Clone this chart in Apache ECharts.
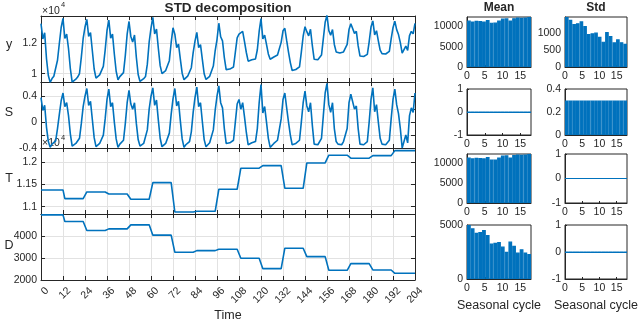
<!DOCTYPE html>
<html>
<head>
<meta charset="utf-8">
<script src="https://cdn.jsdelivr.net/npm/echarts@6/dist/echarts.min.js"></script>
<style>
  html, body { margin: 0; padding: 0; background: #fff; }
  #chart { width: 640px; height: 325px; }
</style>
</head>
<body>
<div id="chart"></div>
<script>
// per-cycle trend (T) and dispersion (D), 17 seasonal cycles of 12 months
const trend = [11376, 11180, 11331, 11286, 11167, 11540, 10880, 10896, 11392,
  11865, 11924, 11414, 11984, 12158, 12090, 12149, 12261]
const dispersion = [5000, 4693, 4277, 4355, 4540, 4065, 3279, 3353, 3418,
  3000, 2522, 3464, 3076, 2448, 2753, 2462, 2309]

// seasonal component S, t = 0..204 (first value is t = 0, then one row per cycle)
const seasonal = [0.38,
  0.18, 0.26, -0.08, -0.30, -0.39, -0.34, -0.31, -0.29, -0.10, 0.12, 0.33, 0.45,
  0.24, 0.30, 0.10, -0.18, -0.37, -0.37, -0.33, -0.30, -0.25, -0.02, 0.24, 0.40,
  0.52, 0.26, 0.32, 0.04, -0.24, -0.38, -0.35, -0.33, -0.31, -0.20, 0.05, 0.35,
  0.51, 0.24, 0.30, 0.00, -0.26, -0.39, -0.34, -0.32, -0.28, -0.02, 0.30, 0.49,
  0.28, 0.20, 0.30, -0.02, -0.27, -0.37, -0.36, -0.33, -0.30, -0.12, 0.20, 0.40,
  0.53, 0.26, 0.34, 0.03, -0.25, -0.38, -0.35, -0.33, -0.30, -0.17, 0.12, 0.36,
  0.52, 0.25, 0.32, 0.02, -0.26, -0.39, -0.35, -0.32, -0.30, -0.15, 0.15, 0.38,
  0.54, 0.24, 0.30, 0.01, -0.27, -0.38, -0.36, -0.32, -0.29, -0.12, 0.18, 0.40,
  0.56, 0.30, 0.22, -0.10, -0.33, -0.35, -0.32, -0.30, -0.28, 0.00, 0.28, 0.35,
  0.20, 0.30, 0.08, -0.16, -0.35, -0.34, -0.32, -0.33, -0.30, -0.10, 0.30, 0.58,
  0.14, 0.24, 0.00, -0.25, -0.39, -0.36, -0.33, -0.32, -0.28, -0.25, 0.05, 0.35,
  0.45, 0.22, 0.00, -0.20, -0.35, -0.37, -0.33, -0.32, -0.28, 0.00, 0.30, 0.48,
  0.25, 0.16, 0.30, -0.05, -0.34, -0.33, -0.35, -0.32, -0.25, 0.10, 0.45, 0.60,
  0.27, 0.15, 0.30, -0.10, -0.30, -0.34, -0.33, -0.35, -0.30, -0.32, -0.10, 0.30,
  0.43, 0.42, 0.20, 0.25, -0.10, -0.34, -0.33, -0.35, -0.32, -0.30, 0.00, 0.35,
  0.53, 0.16, 0.27, 0.00, -0.25, -0.34, -0.33, -0.35, -0.32, -0.28, 0.05, 0.35,
  0.51, 0.27, 0.13, -0.10, -0.40, -0.30, -0.20, -0.32, 0.10, 0.22, 0.15, 0.45]

// right-hand bar panels
const cycles = [1, 2, 3, 4, 5, 6, 7, 8, 9, 10, 11, 12, 13, 14, 15, 16, 17]
const stdY = [1490, 1410, 1285, 1305, 1360, 1220, 985, 1005, 1025, 900, 755, 1040, 925, 735, 825, 740, 695]
const stdS = [0.3, 0.3, 0.3, 0.3, 0.3, 0.3, 0.3, 0.3, 0.3, 0.3, 0.3, 0.3, 0.3, 0.3, 0.3, 0.3, 0.3]
const zeroRow = [0, 0, 0, 0, 0, 0, 0, 0, 0, 0, 0, 0, 0, 0, 0, 0, 0]

const AXC = '#262626'
const GRIDC = '#e2e2e2'
const BLUE = '#0072BD'
const FONT = '"Liberation Sans", Arial, Helvetica, sans-serif'

// y = T + D * S (the decomposition)
const cycleOf = t => (t === 0 ? 0 : Math.ceil(t / 12) - 1)
const ySeries = [], sSeries = [], tSeries = [], dSeries = []
seasonal.forEach((s, t) => {
  const c = cycleOf(t)
  ySeries.push([t, trend[c] + dispersion[c] * s])
  sSeries.push([t, s])
  tSeries.push([t, trend[c]])
  dSeries.push([t, dispersion[c]])
})

const grids = [], xAxes = [], yAxes = [], series = []
const lbl = { color: AXC, fontSize: 10.5, fontFamily: FONT }
const lineSt = { show: true, onZero: false, lineStyle: { color: AXC, width: 1 } }
const plain = v => String(v)

function leftPanel (top, data, y, showX) {
  const g = grids.length
  grids.push({ left: 41, top: top, width: 374, height: 66 })
  const tick = { show: true, inside: true, length: 4, lineStyle: { color: AXC } }
  xAxes.push({
    gridIndex: g, type: 'value', position: 'bottom', min: 0, max: 204, interval: 12,
    axisLine: lineSt, axisTick: tick,
    splitLine: { show: true, lineStyle: { color: GRIDC } },
    axisLabel: showX
      ? Object.assign({ rotate: 45, margin: 3, verticalAlign: 'top', padding: [3, 0, 0, 0] }, lbl)
      : { show: false }
  })
  const xi = xAxes.length - 1
  xAxes.push({
    gridIndex: g, type: 'value', position: 'top', min: 0, max: 204, interval: 12,
    axisLine: lineSt, axisTick: tick, splitLine: { show: false }, axisLabel: { show: false }
  })
  yAxes.push({
    gridIndex: g, type: 'value', position: 'left', min: y.min, max: y.max,
    axisLine: lineSt,
    axisTick: Object.assign({ customValues: y.ticks }, tick),
    splitLine: { show: true, lineStyle: { color: GRIDC } },
    axisLabel: Object.assign({ customValues: y.labels, margin: 4, formatter: y.fmt }, lbl)
  })
  const yi = yAxes.length - 1
  yAxes.push({
    gridIndex: g, type: 'value', position: 'right', min: y.min, max: y.max,
    axisLine: lineSt,
    axisTick: Object.assign({ customValues: y.ticks }, tick),
    splitLine: { show: false }, axisLabel: { show: false }
  })
  series.push({
    type: 'line', xAxisIndex: xi, yAxisIndex: yi, data: data,
    showSymbol: false, symbol: 'none', clip: true,
    lineStyle: { color: BLUE, width: 1.6 }, z: 3
  })
}

function smallPanel (left, width, top, height, values, y, asLine) {
  const g = grids.length
  grids.push({
    left: left, top: top, width: width, height: height,
    show: true, borderColor: AXC, borderWidth: 1, backgroundColor: 'transparent'
  })
  const tick = { show: true, inside: true, length: 2, lineStyle: { color: AXC } }
  // hidden category axis carries the bars, one per seasonal cycle
  xAxes.push({
    gridIndex: g, type: 'category', position: 'top', data: cycles, boundaryGap: true,
    axisLine: { show: false }, axisTick: { show: false }, axisLabel: { show: false }, splitLine: { show: false }
  })
  const ci = xAxes.length - 1
  xAxes.push({
    gridIndex: g, type: 'value', position: 'bottom', min: 0, max: 18, interval: 5,
    axisLine: lineSt, axisTick: tick, splitLine: { show: false },
    axisLabel: Object.assign({ margin: 4, showMaxLabel: false, formatter: plain }, lbl)
  })
  yAxes.push({
    gridIndex: g, type: 'value', position: 'left', min: y.min, max: y.max, interval: y.interval,
    axisLine: lineSt, axisTick: tick, splitLine: { show: false },
    axisLabel: Object.assign({ margin: 4, showMaxLabel: y.showMax !== false, formatter: plain }, lbl)
  })
  const yi = yAxes.length - 1
  const s = {
    type: 'bar', xAxisIndex: ci, yAxisIndex: yi, data: values,
    barWidth: '100%', barCategoryGap: 0,
    itemStyle: { color: BLUE, borderColor: BLUE, borderWidth: 1.2 }, z: 2
  }
  if (asLine) {
    s.markLine = {
      silent: true, symbol: 'none', label: { show: false },
      lineStyle: { color: BLUE, width: 1.2, type: 'solid' },
      data: [{ yAxis: 0 }]
    }
  }
  series.push(s)
}

// left column: y, S, T, D
leftPanel(16, ySeries, { min: 9450, max: 13780, ticks: [10000, 12000], labels: [10000, 12000], fmt: v => String(v / 1e4) }, false)
leftPanel(82, sSeries, { min: -0.4, max: 0.62, ticks: [-0.4, -0.2, 0, 0.2, 0.4], labels: [-0.4, 0, 0.4], fmt: v => String(+v.toFixed(2)) }, false)
leftPanel(148, tSeries, { min: 10835, max: 12320, ticks: [11000, 11500, 12000], labels: [11000, 11500, 12000], fmt: v => String(+(v / 1e4).toFixed(3)) }, false)
leftPanel(214, dSeries, { min: 2000, max: 5040, ticks: [2000, 3000, 4000], labels: [2000, 3000, 4000], fmt: plain }, true)

// right columns: Mean and Std per seasonal cycle
const rows = [[17, 50], [89, 46], [154, 49], [225, 54]]
const meanL = 467, meanW = 64, stdL = 565, stdW = 62
smallPanel(meanL, meanW, rows[0][0], rows[0][1], trend, { min: 0, max: 'dataMax', interval: 5000, showMax: false })
smallPanel(stdL, stdW, rows[0][0], rows[0][1], stdY, { min: 0, max: 'dataMax', interval: 500, showMax: false })
smallPanel(meanL, meanW, rows[1][0], rows[1][1], zeroRow, { min: -1, max: 1, interval: 1 }, true)
smallPanel(stdL, stdW, rows[1][0], rows[1][1], stdS, { min: 0, max: 0.4, interval: 0.2 })
smallPanel(meanL, meanW, rows[2][0], rows[2][1], trend, { min: 0, max: 'dataMax', interval: 5000, showMax: false })
smallPanel(stdL, stdW, rows[2][0], rows[2][1], zeroRow, { min: -1, max: 1, interval: 1 }, true)
smallPanel(meanL, meanW, rows[3][0], rows[3][1], dispersion, { min: 0, max: 'dataMax', interval: 5000 })
smallPanel(stdL, stdW, rows[3][0], rows[3][1], zeroRow, { min: -1, max: 1, interval: 1 }, true)

function txt (text, x, y, size, opts) {
  return {
    type: 'text', z: 10, silent: true,
    style: Object.assign({
      text: text, x: x, y: y, fill: AXC,
      font: (opts && opts.bold ? 'bold ' : '') + size + 'px ' + FONT,
      textAlign: 'center', textVerticalAlign: 'middle'
    }, opts && opts.style)
  }
}

const graphics = [
  txt('STD decomposition', 228, 8, 13.5, { bold: true }),
  txt('Mean', meanL + meanW / 2, 8, 12, { bold: true }),
  txt('Std', stdL + stdW / 2, 8, 12, { bold: true }),
  txt('y', 9, 45, 12.5),
  txt('S', 9, 113, 12.5),
  txt('T', 9, 179, 12.5),
  txt('D', 9, 246, 12.5),
  txt('Time', 228, 316, 12.5),
  txt('Seasonal cycle', meanL + meanW / 2, 306, 12.5),
  txt('Seasonal cycle', stdL + stdW / 2, 306, 12.5),
  txt('\u00d710', 42, 11, 10.5, { style: { textAlign: 'left' } }),
  txt('4', 61, 5, 7.5, { style: { textAlign: 'left' } }),
  Object.assign(txt('\u00d710', 42, 143, 10.5, { style: { textAlign: 'left' } }), { z: 1 }),
  Object.assign(txt('4', 61, 138, 7.5, { style: { textAlign: 'left' } }), { z: 1 })
]

const chart = echarts.init(document.getElementById('chart'), null, { renderer: 'canvas' })
chart.setOption({
  animation: false,
  textStyle: { fontFamily: FONT },
  grid: grids,
  xAxis: xAxes,
  yAxis: yAxes,
  series: series,
  graphic: graphics
})
</script>
</body>
</html>
